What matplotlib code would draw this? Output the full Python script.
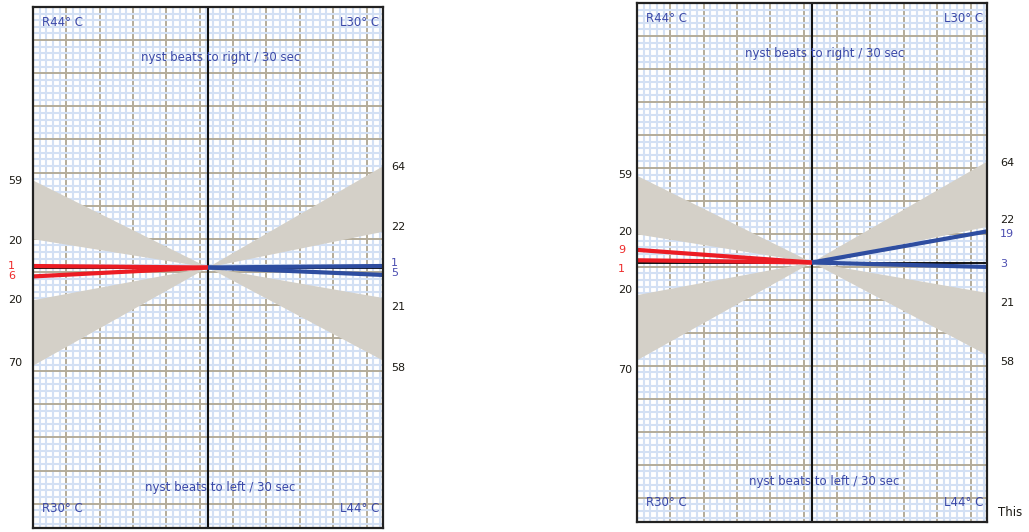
import numpy as np
import matplotlib
matplotlib.use('Agg')
import matplotlib.pyplot as plt
from matplotlib.transforms import blended_transform_factory

# normal-range wedges (beats / 30 sec at the panel edges), same norms in both panels
norm_left_up    = (19, 58.5)
norm_left_down  = (-22, -66)
norm_right_up   = (24, 68)
norm_right_down = (-20.5, -62.5)

# end values of the slope lines (left half = right ear, right half = left ear)
red_ends_1  = [1, -6]
blue_ends_1 = [1, -5]
red_ends_2  = [8.5, 1.5]
blue_ends_2 = [21, -3]

# edge labels: text, y position (beats), colour key
labels_left_1  = [("59", 58), ("20", 18), ("1", 1.2, "r"), ("6", -5.8, "r"), ("20", -22), ("70", -64)]
labels_right_1 = [("64", 67.5), ("22", 27), ("1", 3.0, "b"), ("5", -3.6, "b"), ("21", -26.7), ("58", -67.3)]
labels_left_2  = [("59", 59), ("20", 20.7), ("9", 8.4, "r"), ("1", -4.4, "r"), ("20", -18.5), ("70", -72.3)]
labels_right_2 = [("64", 67), ("22", 28.6), ("19", 19.2, "b"), ("3", -1, "b"), ("21", -27), ("58", -66.8)]

corner_texts = ["R44° C", "L30° C", "R30° C", "L44° C"]
title_up   = "nyst beats to right / 30 sec"
title_down = "nyst beats to left / 30 sec"

YMAX = 175
RED   = '#ec1c24'
BLUE  = '#2e4da0'
TXTB  = '#3a48a8'
GRAY  = '#d4d0c8'
MAJOR = '#b4ac9a'
MINOR = '#d3e0f4'
LBL_COL = {"k": '#1c1a14', "r": '#ee2a2a', "b": '#4a4cb0'}

W_PX, H_PX = 350.0, 520.0


def draw_grid(ax):
  tr = ax.transAxes
  mx_px = np.arange(33.35, W_PX, 33.35)
  my_px = np.arange(33.05, H_PX, 33.05)
  nx_px = np.array([v for i, v in enumerate(np.arange(6.67, W_PX, 6.67)) if (i + 1) % 5])
  ny_px = np.array([v for i, v in enumerate(np.arange(6.61, H_PX, 6.61)) if (i + 1) % 5])
  ax.vlines(mx_px / W_PX, 0, 1, transform=tr, color=MAJOR, lw=1.4, zorder=0.5)
  ax.vlines(nx_px / W_PX, 0, 1, transform=tr, color=MINOR, lw=1.5, zorder=0.55)
  ax.hlines(1 - ny_px / H_PX, 0, 1, transform=tr, color=MINOR, lw=1.5, zorder=0.6)
  ax.hlines(1 - my_px / H_PX, 0, 1, transform=tr, color=MAJOR, lw=1.4, zorder=0.7)


def draw_panel(ax, red_ends, blue_ends, lab_left, lab_right, xl, xr):
  ax.set_xlim(-1, 1)
  ax.set_ylim(-YMAX, YMAX)
  ax.set_xticks([])
  ax.set_yticks([])
  for s in ax.spines.values():
    s.set_color('#222222')
    s.set_linewidth(1.6)
    s.set_zorder(5)

  draw_grid(ax)

  # normal-range wedges
  for x_end, (a, b) in [(-1, norm_left_up), (-1, norm_left_down),
                        (1, norm_right_up), (1, norm_right_down)]:
    ax.fill([0, x_end, x_end], [0, a, b], color=GRAY, lw=0, zorder=1)

  ax.axhline(0, color='black', lw=1.3, zorder=1.5)
  ax.axvline(0, color='#111111', lw=1.5, zorder=1.6)

  for v in red_ends:
    ax.plot([0, -1], [0, v], color=RED, lw=3, solid_capstyle='butt', zorder=2)
  for v in blue_ends:
    ax.plot([0, 1], [0, v], color=BLUE, lw=3, solid_capstyle='butt', zorder=2)

  fs = 8.5
  ax.text(0.027, 0.971, corner_texts[0], transform=ax.transAxes, color=TXTB,
          fontsize=fs, va='center', ha='left')
  ax.text(0.876, 0.971, corner_texts[1], transform=ax.transAxes, color=TXTB,
          fontsize=fs, va='center', ha='left', clip_on=True)
  ax.text(0.027, 0.037, corner_texts[2], transform=ax.transAxes, color=TXTB,
          fontsize=fs, va='center', ha='left')
  ax.text(0.876, 0.037, corner_texts[3], transform=ax.transAxes, color=TXTB,
          fontsize=fs, va='center', ha='left', clip_on=True)
  ax.text(0.535, 0.903, title_up, transform=ax.transAxes, color=TXTB,
          fontsize=fs, va='center', ha='center', zorder=3)
  ax.text(0.535, 0.078, title_down, transform=ax.transAxes, color=TXTB,
          fontsize=fs, va='center', ha='center', zorder=3)

  bt = blended_transform_factory(ax.transAxes, ax.transData)
  for x, labs in [(xl, lab_left), (xr, lab_right)]:
    for item in labs:
      txt, y = item[0], item[1]
      col = LBL_COL[item[2]] if len(item) > 2 else LBL_COL["k"]
      ax.text(x, y, txt, transform=bt, color=col, fontsize=8,
              va='center', ha='left', clip_on=False)


fig = plt.figure(figsize=(10.29, 5.32), dpi=100)
ax1 = fig.add_axes([33 / 1029, 4 / 532, 350 / 1029, 521 / 532])
ax2 = fig.add_axes([637 / 1029, 10 / 532, 350 / 1029, 519 / 532])

draw_panel(ax1, red_ends_1, blue_ends_1, labels_left_1, labels_right_1, -0.071, 1.023)
draw_panel(ax2, red_ends_2, blue_ends_2, labels_left_2, labels_right_2, -0.054, 1.037)

fig.text(998 / 1029, 1 - 513 / 532, "This", fontsize=8.5, color=LBL_COL["k"],
         va='center', ha='left')

fig.savefig('out.png', dpi=100)
